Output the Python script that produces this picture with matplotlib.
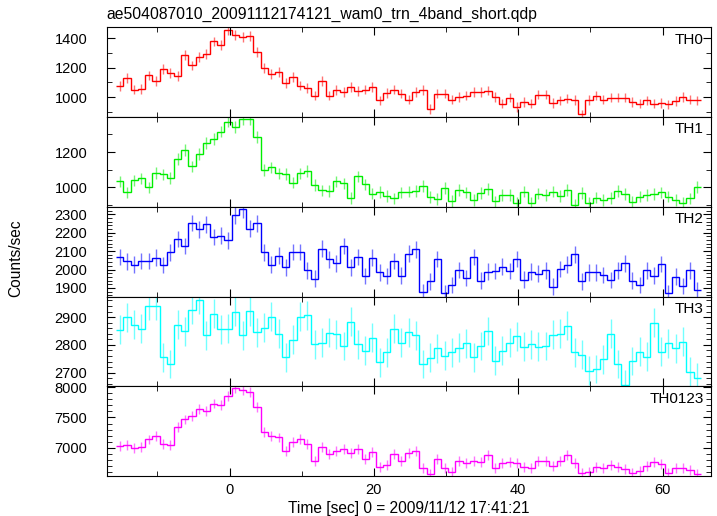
import matplotlib
matplotlib.use("Agg")
import matplotlib.pyplot as plt
import numpy as np
from matplotlib.ticker import MultipleLocator

plt.rcParams.update({
    "font.family": ["Liberation Sans", "DejaVu Sans"],
    "font.size": 10.5,
})

# bin centres (1 s bins)
t_start = -15.2
bin_width = 1.0

th0 = [1074, 1130, 1052, 1056, 1148, 1108, 1193, 1164, 1142, 1288,
       1216, 1272, 1292, 1378, 1355, 1456, 1422, 1407, 1416, 1306,
       1198, 1157, 1171, 1097, 1137, 1079, 1063, 1011, 1108, 1011,
       1047, 1034, 1067, 1040, 1052, 1070, 978, 1029, 1052, 1025,
       984, 1034, 1047, 921, 1025, 1025, 984, 1002, 1011, 1034,
       1034, 1045, 1002, 957, 997, 935, 969, 957, 1018, 1018,
       962, 978, 991, 980, 883, 980, 1011, 984, 997, 997,
       997, 966, 957, 978, 957, 962, 951, 973, 1000, 984, 978]
th1 = [1034, 972, 1040, 1051, 1000, 1081, 1074, 1053, 1162, 1213,
       1119, 1189, 1251, 1274, 1315, 1372, 1340, 1387, 1387, 1283,
       1100, 1113, 1079, 1075, 1028, 1079, 1092, 1013, 983, 981,
       1034, 1023, 941, 1062, 1017, 966, 975, 953, 938, 972,
       977, 981, 1009, 947, 934, 996, 925, 987, 972, 930,
       968, 991, 921, 957, 957, 911, 977, 911, 966, 959,
       977, 953, 987, 900, 968, 911, 943, 930, 940, 981,
       962, 919, 949, 957, 962, 972, 949, 930, 915, 938, 1004]
th2 = [2069, 2045, 2027, 2047, 2047, 2064, 2024, 2093, 2167, 2127,
       2253, 2218, 2245, 2176, 2184, 2158, 2295, 2327, 2222, 2251,
       2093, 2027, 2075, 2011, 2096, 2096, 1996, 1951, 2114, 2055,
       2033, 2129, 2011, 2069, 1964, 2065, 1984, 1964, 2047, 1967,
       2087, 2109, 1875, 1935, 2058, 1871, 1916, 1998, 1953, 2069,
       1940, 1989, 1993, 2016, 1993, 2058, 1945, 1989, 1978, 1996,
       1907, 2002, 2027, 2082, 1935, 1984, 1984, 1971, 1942, 1996,
       2033, 1940, 1916, 1996, 1967, 2031, 1870, 1962, 1911, 1996, 1887]
th3 = [2855, 2900, 2873, 2858, 2940, 2940, 2755, 2731, 2873, 2849,
       2927, 2962, 2835, 2912, 2856, 2858, 2920, 2835, 2921, 2846,
       2861, 2902, 2840, 2755, 2819, 2902, 2906, 2802, 2808, 2843,
       2838, 2796, 2883, 2802, 2779, 2826, 2737, 2773, 2858, 2808,
       2846, 2835, 2731, 2754, 2787, 2761, 2773, 2790, 2805, 2755,
       2796, 2850, 2743, 2779, 2807, 2831, 2793, 2802, 2793, 2796,
       2837, 2840, 2869, 2773, 2765, 2707, 2713, 2748, 2840, 2731,
       2657, 2742, 2775, 2757, 2880, 2775, 2805, 2787, 2811, 2704, 2681]
th0123 = [7033, 7044, 6989, 7016, 7137, 7192, 7055, 7038, 7346, 7467,
          7522, 7648, 7610, 7731, 7703, 7852, 7984, 7951, 7929, 7676,
          7253, 7198, 7170, 6945, 7093, 7143, 7055, 6780, 7016, 6896,
          6951, 6973, 6907, 6973, 6808, 6934, 6676, 6714, 6896, 6780,
          6918, 6951, 6670, 6566, 6813, 6659, 6604, 6786, 6742, 6786,
          6758, 6879, 6670, 6742, 6769, 6742, 6676, 6659, 6780, 6780,
          6698, 6780, 6879, 6742, 6577, 6604, 6676, 6659, 6714, 6687,
          6643, 6588, 6621, 6698, 6769, 6731, 6577, 6659, 6659, 6632, 6566]

names = ["TH0", "TH1", "TH2", "TH3", "TH0123"]
series = [th0, th1, th2, th3, th0123]
errors = [33, 33, 45, 52, 82]
colors = ["#ff0000", "#00ee00", "#0000ff", "#00ffff", "#ff00ff"]
ylims = [(865, 1474), (891, 1397), (1853, 2341), (2651, 2974), (6533, 8016)]
major = [200, 200, 100, 100, 500]
minor = [100, 100, 20, 20, 100]

fig, axes = plt.subplots(5, 1, sharex=True, figsize=(7.17, 5.16), dpi=100)
plt.subplots_adjust(left=0.149, right=0.9916, top=0.947, bottom=0.0775, hspace=0)

for ax, name, y, e, c, yl, mj, mn in zip(axes, names, series, errors, colors, ylims, major, minor):
    y = np.array(y, dtype=float)
    t = t_start + bin_width * np.arange(len(y))
    edges = np.append(t - bin_width / 2, t[-1] + bin_width / 2)
    ax.stairs(y, edges, baseline=None, color=c, linewidth=1.0)
    ax.errorbar(t, y, yerr=e, fmt="none", ecolor=c, elinewidth=1.0, alpha=0.55)
    ax.set_ylim(*yl)
    ax.yaxis.set_major_locator(MultipleLocator(mj))
    ax.yaxis.set_minor_locator(MultipleLocator(mn))
    ax.xaxis.set_major_locator(MultipleLocator(20))
    ax.xaxis.set_minor_locator(MultipleLocator(10))
    ax.tick_params(which="both", direction="in", top=True, right=True, labelsize=10.5)
    ax.tick_params(axis="y", which="major", length=6, pad=14)
    ax.tick_params(axis="y", which="minor", length=3.5)
    ax.tick_params(axis="x", which="major", length=6, pad=5)
    ax.tick_params(axis="x", which="minor", length=3.5)
    ax.text(0.988, 0.94, name, transform=ax.transAxes, ha="right", va="top", fontsize=11)

axes[-1].set_xlim(-17, 66.7)
axes[-1].set_xlabel("Time [sec] 0 = 2009/11/12 17:41:21", fontsize=11.2, labelpad=3)
fig.text(0.022, 0.5, "Counts/sec", rotation=90, ha="center", va="center", fontsize=11.2)
fig.text(0.149, 0.972, "ae504087010_20091112174121_wam0_trn_4band_short.qdp",
         ha="left", va="center", fontsize=11.3)

fig.savefig("out.png", dpi=100)
